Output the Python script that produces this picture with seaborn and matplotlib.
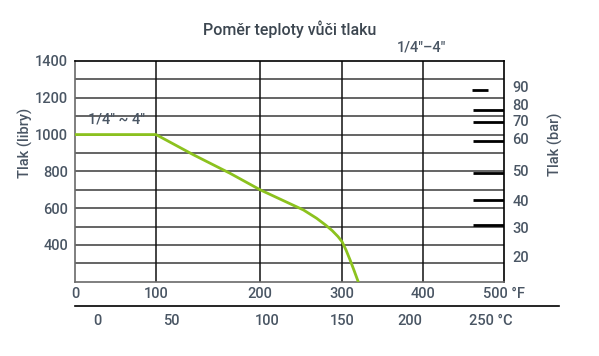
import numpy as np
import pandas as pd
import matplotlib
matplotlib.use("Agg")
import matplotlib.pyplot as plt
import seaborn as sns

# pressure / temperature curve (°F, psi)
temp_f = [0, 100, 136, 171, 200, 253, 269, 280, 288, 295, 300, 305, 310, 315, 320]
press_psi = [1000, 1000, 890, 790, 700, 590, 545, 508, 478, 446, 418, 372, 318, 260, 200]

# bar scale on the right, placed as in the original chart (psi equivalents)
bar_labels = ["90", "80", "70", "60", "50", "40", "30", "20"]
bar_pos_psi = [1264, 1166, 1074, 976, 802, 644, 494, 336]

# short black rating marks at the right edge
dash_psi = [1242, 1134, 1068, 965, 793, 644, 508]
dash_start = [460, 462, 462, 462, 462, 462, 462]
dash_end = [480, 500, 500, 500, 500, 500, 500]

f_ticks = [0, 100, 200, 300, 400, 500]
f_labels = ["0", "100", "200", "300", "400", "500 °F"]
c_ticks = [0, 50, 100, 150, 200, 250]
c_labels = ["0", "50", "100", "150", "200", "250 °C"]
psi_ticks = [400, 600, 800, 1000, 1200, 1400]

# the printed scales are not evenly spaced; map them piecewise
f_breaks = [0, 100, 200, 300, 400, 500]
f_px = [0, 81, 185, 267, 348, 429]
c_breaks = [-15.5, 0, 50, 100, 150, 200, 250, 292.3]
c_px = [0, 22.7, 96, 191.7, 267, 335, 415.7, 484]

sns.set_style("white")
plt.rcParams["font.family"] = ["Roboto", "DejaVu Sans"]
plt.rcParams["font.weight"] = "medium"
txt = "#4a5664"
green = "#8cc21e"
fs = 10.5

W, H = 599, 356
fig = plt.figure(figsize=(W / 100, H / 100), dpi=100)
ax = fig.add_axes([75 / W, 1 - 281.7 / H, 429 / W, (281.7 - 61) / H])

ax.set_xscale("function", functions=(lambda x: np.interp(x, f_breaks, f_px),
                                     lambda u: np.interp(u, f_px, f_breaks)))
ax.set_xlim(0, 500)
ax.set_ylim(200, 1400)

# grid
for v in range(300, 1400, 100):
    ax.axhline(v, color="#3a3a3a", lw=1.1, zorder=1)
for v in [100, 200, 300, 400]:
    ax.axvline(v, color="#111111", lw=1.1, zorder=1)

df = pd.DataFrame({"F": temp_f, "psi": press_psi})
sns.lineplot(data=df, x="F", y="psi", ax=ax, color=green, lw=2.0,
             sort=False, zorder=3)

for yv, x0, x1 in zip(dash_psi, dash_start, dash_end):
    ax.plot([x0, x1], [yv, yv], color="black", lw=2.0, zorder=2,
            solid_capstyle="butt")

ax.text(51, 1046, '1/4" ~ 4"', ha="center", va="bottom", fontsize=fs, color=txt)

for side in ["top", "right"]:
    ax.spines[side].set_color("black")
for side in ["left", "bottom"]:
    ax.spines[side].set_color("#6a6a6a")
for s in ax.spines.values():
    s.set_linewidth(1.2)

ax.set_xticks(f_ticks)
ax.set_xticklabels(f_labels)
ax.set_yticks(psi_ticks)
ax.tick_params(axis="both", length=0, labelsize=fs, colors=txt)
ax.tick_params(axis="x", pad=4)
ax.tick_params(axis="y", pad=5)
ax.set_xlabel("")
ax.set_ylabel("")

ax2 = ax.twinx()
ax2.set_ylim(200, 1400)
ax2.set_yticks(bar_pos_psi)
ax2.set_yticklabels(bar_labels)
ax2.tick_params(axis="y", length=0, labelsize=fs, colors=txt, pad=6)
for s in ax2.spines.values():
    s.set_visible(False)

# °C scale below
axc = fig.add_axes([75 / W, 1 - 305.7 / H, 484 / W, 0.001])
axc.set_xscale("function", functions=(lambda x: np.interp(x, c_breaks, c_px),
                                      lambda u: np.interp(u, c_px, c_breaks)))
axc.set_xlim(-15.5, 292.3)
axc.set_xticks(c_ticks)
axc.set_xticklabels(c_labels)
axc.set_xticks([-15.5], minor=True)
axc.set_yticks([])
for side in ["top", "left", "right"]:
    axc.spines[side].set_visible(False)
axc.spines["bottom"].set_color("black")
axc.spines["bottom"].set_linewidth(1.2)
axc.tick_params(axis="x", which="both", direction="out", length=4, width=1.0,
                color="black", labelsize=fs, labelcolor=txt, pad=2)
axc.patch.set_alpha(0)

fig.text(289.5 / W, 1 - 29 / H, "Poměr teploty vůči tlaku", ha="center",
         va="center", fontsize=11.5, color="#3c4650")
fig.text(422 / W, 1 - 47 / H, '1/4"–4"', ha="center", va="center",
         fontsize=fs, color=txt)
fig.text(25 / W, 1 - 142.5 / H, "Tlak (libry)", rotation=90, ha="center",
         va="center", fontsize=fs, color=txt)
fig.text(555 / W, 1 - 144.5 / H, "Tlak (bar)", rotation=90, ha="center",
         va="center", fontsize=fs, color=txt)

fig.savefig("out.png", dpi=100)
